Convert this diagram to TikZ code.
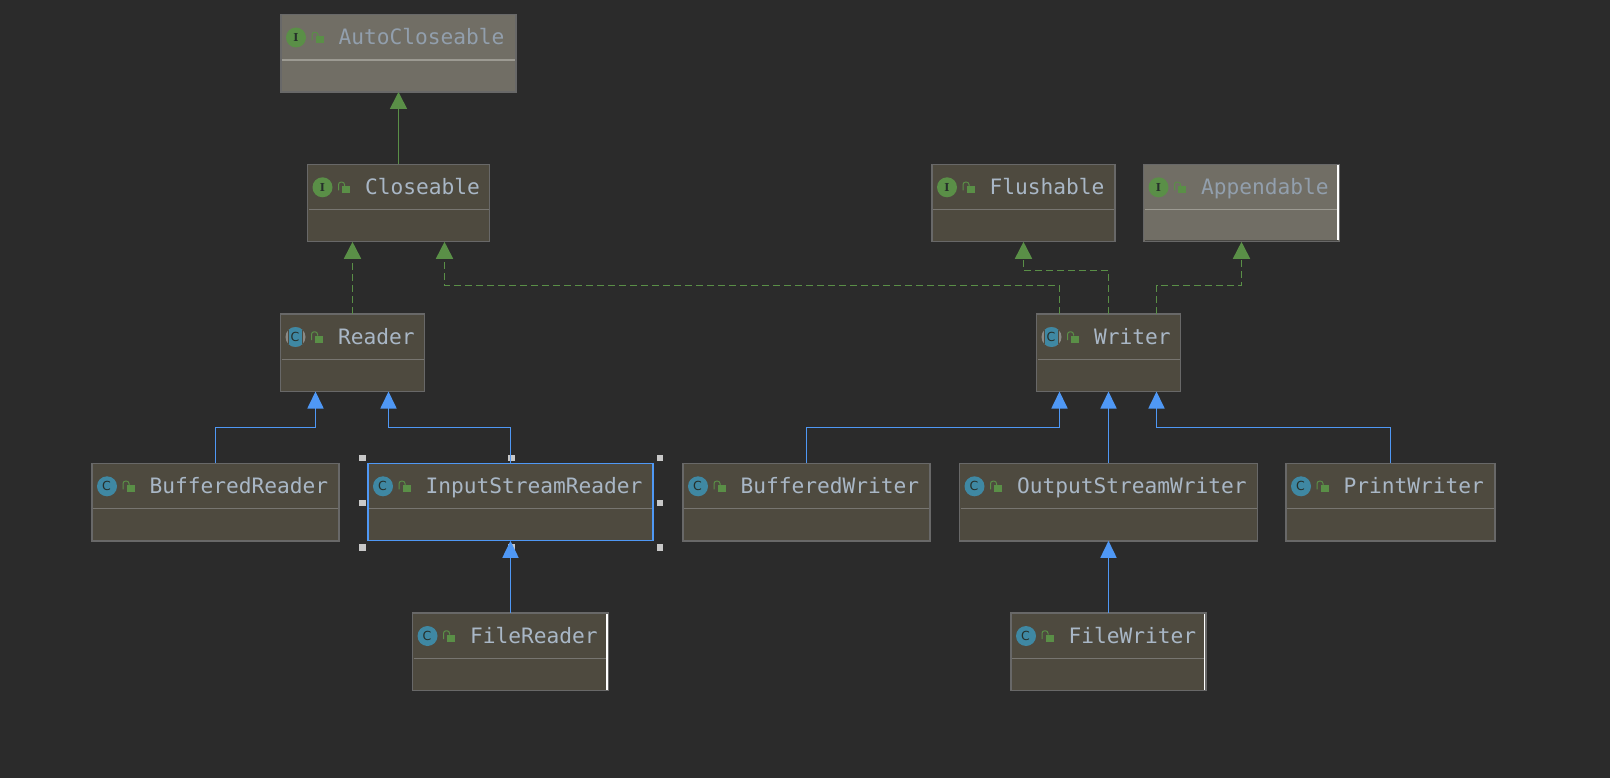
\documentclass[tikz,border=0pt]{standalone}
\usepackage{fontspec}
\setmonofont{DejaVu Sans Mono}
\newfontfamily\iconfont{DejaVu Serif}
\newfontfamily\ciconfont{DejaVu Sans}
\usetikzlibrary{arrows.meta,calc}
\definecolor{bgc}{HTML}{2B2B2B}
\definecolor{boxc}{HTML}{4E4A3F}
\definecolor{fadec}{HTML}{716E65}
\definecolor{edgec}{HTML}{686868}
\definecolor{divc}{HTML}{777570}
\definecolor{divf}{HTML}{9C9A92}
\definecolor{txtc}{HTML}{A9B7C6}
\definecolor{txtf}{HTML}{929FAD}
\definecolor{greenc}{HTML}{5A8F47}
\definecolor{bluec}{HTML}{4F98F5}
\definecolor{tealc}{HTML}{3F88A3}
\definecolor{graycirc}{HTML}{8A8A86}
\definecolor{inkc}{HTML}{26302B}
\definecolor{handlec}{HTML}{C8C8C8}
\tikzset{
  every node/.style={inner sep=0pt,outer sep=0pt},
  umlframe/.style={draw=edgec,line width=1.4pt,fill=boxc},
  selectedframe/.style={draw=bluec,line width=1.2pt,fill=boxc},
  fadedframe/.style={draw=edgec,line width=1.4pt,fill=fadec},
  umltext/.style={font=\ttfamily\fontsize{21.2}{24}\selectfont,text=txtc,anchor=base west},
  fadedtext/.style={umltext,text=txtf},
  iconletter/.style={font=\iconfont\bfseries\fontsize{11}{12}\selectfont,text=inkc},
  cletter/.style={font=\ciconfont\fontsize{12.5}{13}\selectfont,text=inkc},
  implarrow/.style={draw=greenc,line width=1.7pt,dash pattern=on 7pt off 4pt,-{Triangle[length=17pt,width=17pt,fill=greenc]}},
  extgreen/.style={draw=greenc,line width=1.7pt,-{Triangle[length=17pt,width=17pt,fill=greenc]}},
  extblue/.style={draw=bluec,line width=1.7pt,-{Triangle[length=17pt,width=16pt,fill=bluec]}},
  handle/.style={fill=handlec,draw=none,minimum size=6.5pt}
}
\newcommand{\lockicon}[2]{%
  \fill[greenc] (#1+34.5,#2+21.5) rectangle (#1+42.5,#2+29);
  \draw[greenc,line width=1pt,rounded corners=2.5pt] (#1+31,#2+26) -- (#1+31,#2+17.8) -- (#1+37,#2+17.8) -- (#1+37,#2+21.5);}
% id, left, top, right, frame style, text style, label, divider colour
\newcommand{\umlbox}[8]{%
  \node[#5,anchor=north west,minimum width={(#4-#2)*1pt},minimum height=77.5pt] (#1) at (#2,#3) {};
  \draw[#8,line width=1.1pt] (#2+1,#3+45.5) -- (#4-1,#3+45.5);
  \node[#6] (#1label) at (#2+57.5,#3+30.5) {#7};
  \lockicon{#2}{#3}}
\newcommand{\ifaceicon}[3]{%
  \fill[greenc] (#2+15,#3+23) circle[radius=10pt];
  \node[iconletter] (#1icon) at (#2+15,#3+23) {I};}
\newcommand{\classicon}[3]{%
  \fill[tealc] (#2+15,#3+23) circle[radius=10pt];
  \node[cletter] (#1icon) at (#2+14.5,#3+22.5) {C};}
\newcommand{\abstracticon}[3]{%
  \fill[graycirc] (#2+15,#3+23) circle[radius=10pt];
  \begin{scope}
    \clip (#2+15,#3+23) circle[radius=10pt];
    \fill[boxc] (#2+7.5,#3+10) rectangle (#2+22.5,#3+36);
    \fill[tealc] (#2+8.5,#3+10) rectangle (#2+21.5,#3+36);
  \end{scope}
  \node[cletter] (#1icon) at (#2+14.5,#3+22.5) {C};}
\begin{document}
\begin{tikzpicture}[x=1pt,y=-1pt]
\useasboundingbox[fill=bgc] (0,0) rectangle (1610,778);

% selection handles
\foreach \hx/\hy [count=\i] in {362.5/458,511.5/458,660/458,362.5/503,660/503,362.5/547.5,511.5/547.5,660/547.5}
  \node[handle] (h\i) at (\hx,\hy) {};

\umlbox{auto}{281}{14.5}{516}{fadedframe}{fadedtext}{AutoCloseable}{divf}\ifaceicon{auto}{281}{14.5}
\umlbox{close}{307.5}{164.3}{489.5}{umlframe}{umltext}{Closeable}{divc}\ifaceicon{close}{307.5}{164.3}
\umlbox{flush}{932}{164.3}{1115}{umlframe}{umltext}{Flushable}{divc}\ifaceicon{flush}{932}{164.3}
\umlbox{append}{1143.5}{164.3}{1339.5}{fadedframe}{fadedtext}{Appendable}{divf}\ifaceicon{append}{1143.5}{164.3}
\umlbox{reader}{280.5}{314}{424.5}{umlframe}{umltext}{Reader}{divc}\abstracticon{reader}{280.5}{314}
\umlbox{writer}{1036.5}{314}{1180.5}{umlframe}{umltext}{Writer}{divc}\abstracticon{writer}{1036.5}{314}
\umlbox{bufr}{92}{463.3}{339}{umlframe}{umltext}{BufferedReader}{divc}\classicon{bufr}{92}{463.3}
\umlbox{isr}{368}{463.3}{653}{selectedframe}{umltext}{InputStreamReader}{divc}\classicon{isr}{368}{463.3}
\umlbox{bufw}{683}{463.3}{930}{umlframe}{umltext}{BufferedWriter}{divc}\classicon{bufw}{683}{463.3}
\umlbox{osw}{959.5}{463.3}{1257.5}{umlframe}{umltext}{OutputStreamWriter}{divc}\classicon{osw}{959.5}{463.3}
\umlbox{pw}{1286}{463.3}{1495}{umlframe}{umltext}{PrintWriter}{divc}\classicon{pw}{1286}{463.3}
\umlbox{fr}{412.5}{613}{608.5}{umlframe}{umltext}{FileReader}{divc}\classicon{fr}{412.5}{613}
\umlbox{fw}{1011}{613}{1206}{umlframe}{umltext}{FileWriter}{divc}\classicon{fw}{1011}{613}

% white inner right edges
\draw[white,line width=1.2pt] (607,614) -- (607,689.5);
\draw[white,line width=1.2pt] (1204.5,614) -- (1204.5,689.5);
\draw[white,line width=1.2pt] (1338,165.5) -- (1338,240.5);
\draw[bgc!60!fadec,line width=1pt] (1145,240.5) -- (1338,240.5);

% connectors
\draw[extgreen] (close.north) -- (auto.south);
\draw[implarrow] (reader.north) -- (reader.north |- close.south);
\draw[implarrow] ([xshift=-49pt]writer.north) |- ++(-300,-28.5) -| ([xshift=46pt]close.south);
\draw[implarrow] (writer.north) |- ++(-40,-43.5) -| (flush.south);
\draw[implarrow] ([xshift=48pt]writer.north) |- ++(40,-28.5) -| (append.south);

\draw[extblue] (bufr.north) |- ++(60,-35.8) -| ([xshift=-37pt]reader.south);
\draw[extblue] (isr.north) |- ++(-60,-35.8) -| ([xshift=36pt]reader.south);
\draw[extblue] (fr.north) -- (isr.south);
\draw[extblue] (bufw.north) |- ++(100,-35.8) -| ([xshift=-49pt]writer.south);
\draw[extblue] (osw.north) -- (writer.south);
\draw[extblue] (pw.north) |- ++(-100,-35.8) -| ([xshift=48pt]writer.south);
\draw[extblue] (fw.north) -- (osw.south);
\end{tikzpicture}
\end{document}
